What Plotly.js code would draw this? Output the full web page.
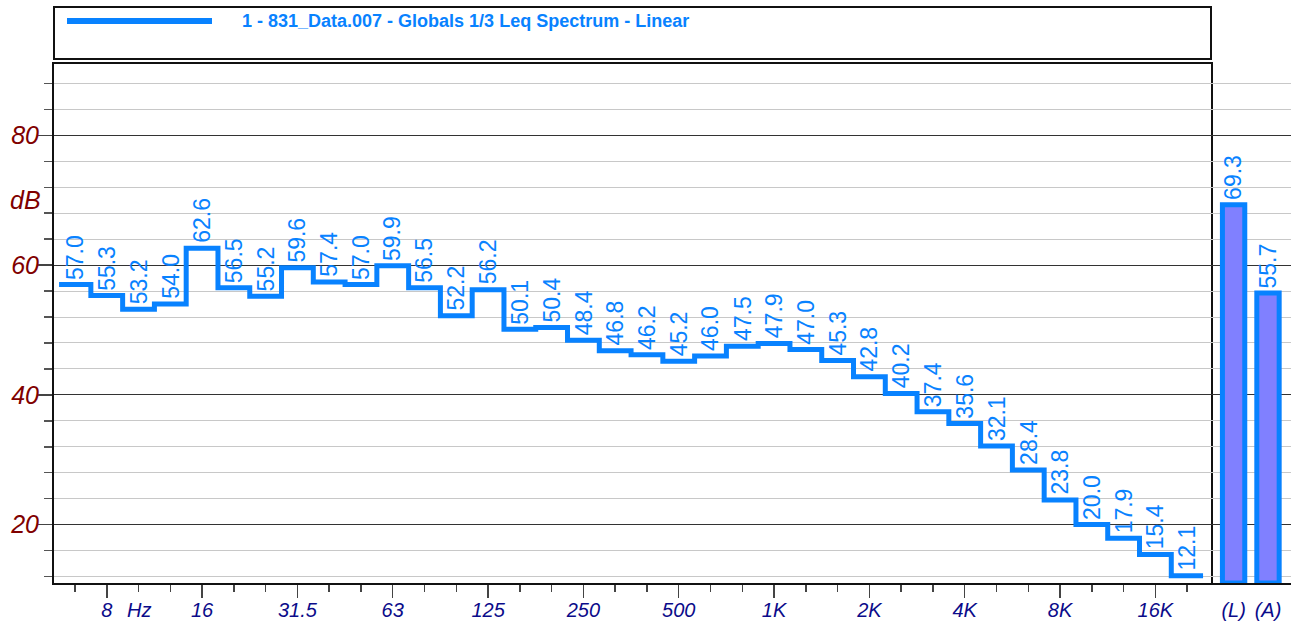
<!DOCTYPE html>
<html>
<head>
<meta charset="utf-8">
<script src="https://cdn.plot.ly/plotly-3.0.1.min.js"></script>
<style>
  html, body { margin: 0; padding: 0; background: #ffffff; }
  #chart { width: 1296px; height: 624px; }
</style>
</head>
<body>
<div id="chart"></div>
<script>
// ---- data ----
var bands = ["6.3","8","10","12.5","16","20","25","31.5","40","50","63","80","100","125","160","200","250","315","400","500","630","800","1K","1.25K","1.6K","2K","2.5K","3.15K","4K","5K","6.3K","8K","10K","12.5K","16K","20K"];
var levels = [57.0,55.3,53.2,54.0,62.6,56.5,55.2,59.6,57.4,57.0,59.9,56.5,52.2,56.2,50.1,50.4,48.4,46.8,46.2,45.2,46.0,47.5,47.9,47.0,45.3,42.8,40.2,37.4,35.6,32.1,28.4,23.8,20.0,17.9,15.4,12.1];
var tickLabelBands = ["8","16","31.5","63","125","250","500","1K","2K","4K","8K","16K"];
var unitBand = "10";          // "Hz" label sits under this band
var overallNames = ["(L)","(A)"];
var overallValues = [69.3, 55.7];
var legendText = "1 - 831_Data.007 - Globals 1/3 Leq Spectrum - Linear";
var yRange = [11, 91];

// ---- geometry helpers (pixels -> paper) ----
var W = 1296, H = 624;
var mL = 54, mR = 5, mT = 64, mB = 41;
var pw = W - mL - mR, ph = H - mT - mB;
function px(x) { return (x - mL) / pw; }
function py(y) { return (H - mB - y) / ph; }
var splitX = px(1211);

var blue = "rgb(8,130,255)";
var fontFam = "Liberation Sans, Arial, sans-serif";
var xFont = { family: fontFam, size: 20, color: "#0b0b8a", style: "italic" };
var labelFont = { family: fontFam, size: 23, color: blue };

// step line built from band indices (edges at i-0.5)
var stepX = [], stepY = [];
for (var i = 0; i < levels.length; i++) { stepX.push(i - 0.5); stepY.push(levels[i]); }
stepX.push(levels.length - 0.5); stepY.push(levels[levels.length - 1]);

var traces = [
  {
    type: "scatter", mode: "lines", x: stepX, y: stepY,
    line: { shape: "hv", color: blue, width: 5 },
    hoverinfo: "skip", xaxis: "x", yaxis: "y", showlegend: false
  },
  {
    type: "bar", x: overallNames, y: overallValues.map(function (v) { return v - yRange[0]; }),
    base: yRange[0], width: 0.65,
    marker: { color: "rgb(128,128,255)", line: { color: blue, width: 5 } },
    hoverinfo: "skip", xaxis: "x2", yaxis: "y", showlegend: false
  }
];

var annotations = [];
levels.forEach(function (v, i) {
  annotations.push({
    x: i, y: v, xref: "x", yref: "y", text: v.toFixed(1), textangle: -90,
    showarrow: false, xanchor: "center", yanchor: "bottom", yshift: 3,
    font: labelFont
  });
});
overallValues.forEach(function (v, i) {
  annotations.push({
    x: overallNames[i], y: v, xref: "x2", yref: "y", text: v.toFixed(1), textangle: -90,
    showarrow: false, xanchor: "center", yanchor: "bottom", yshift: 3,
    font: labelFont
  });
});
// "Hz" unit label on x axis
annotations.push({
  x: bands.indexOf(unitBand), y: 0, xref: "x", yref: "paper", text: "Hz",
  showarrow: false, xanchor: "center", yanchor: "top", yshift: -14,
  font: xFont
});
// "dB" unit label on y axis
annotations.push({
  x: 0, y: 70, xref: "paper", yref: "y", text: "dB",
  showarrow: false, xanchor: "right", yanchor: "middle", xshift: -11,
  font: { family: fontFam, size: 25, color: "#800000", style: "italic" }
});
// legend text
annotations.push({
  x: px(240), y: py(21), xref: "paper", yref: "paper", text: "<b>" + legendText + "</b>",
  showarrow: false, xanchor: "left", yanchor: "middle",
  font: { family: fontFam, size: 18, color: blue }
});

var shapes = [
  { type: "rect", xref: "paper", yref: "paper", x0: 0, x1: splitX, y0: py(59), y1: py(7),
    line: { color: "#111", width: 2 }, fillcolor: "rgba(0,0,0,0)" },
  { type: "line", xref: "paper", yref: "paper", x0: px(67), x1: px(212), y0: py(21), y1: py(21),
    line: { color: blue, width: 6 } }
];

var layout = {
  width: W, height: H,
  margin: { l: mL, r: mR, t: mT, b: mB, pad: 0 },
  paper_bgcolor: "#ffffff", plot_bgcolor: "#ffffff",
  showlegend: false,
  xaxis: {
    domain: [0, splitX], range: [-0.66, 35.75], type: "linear",
    tickmode: "array",
    tickvals: tickLabelBands.map(function (b) { return bands.indexOf(b); }),
    ticktext: tickLabelBands,
    ticks: "outside", ticklen: 13, tickwidth: 1.5, tickcolor: "#444",
    minor: { tickmode: "linear", tick0: 0, dtick: 1, ticks: "outside", ticklen: 7, tickwidth: 1.5, tickcolor: "#444", showgrid: false },
    showgrid: false, zeroline: false,
    showline: true, linecolor: "#111", linewidth: 2, mirror: true,
    tickfont: xFont, ticklabelstandoff: -5,
    fixedrange: true
  },
  xaxis2: {
    domain: [splitX, 1], range: [-0.657, 1.669], type: "category",
    anchor: "y", showgrid: false, zeroline: false,
    ticks: "outside", ticklen: 13, tickcolor: "rgba(0,0,0,0)",
    showline: true, linecolor: "#111", linewidth: 2,
    tickfont: xFont, ticklabelstandoff: -5,
    fixedrange: true
  },
  yaxis: {
    range: yRange, tickmode: "linear", tick0: 0, dtick: 20,
    ticks: "outside", ticklen: 14, tickwidth: 1.5, tickcolor: "#444",
    showgrid: true, gridcolor: "#333", gridwidth: 1,
    minor: { tickmode: "linear", tick0: 0, dtick: 4, ticks: "outside", ticklen: 8, tickwidth: 1.5, tickcolor: "#555", showgrid: true, gridcolor: "#c8c8c8", gridwidth: 1 },
    zeroline: false, showline: true, linecolor: "#111", linewidth: 2, mirror: true,
    tickfont: { family: fontFam, size: 25, color: "#800000", style: "italic" },
    ticklabelstandoff: -6,
    fixedrange: true
  },
  annotations: annotations,
  shapes: shapes
};

Plotly.newPlot("chart", traces, layout, { displayModeBar: false, staticPlot: true });
</script>
</body>
</html>
